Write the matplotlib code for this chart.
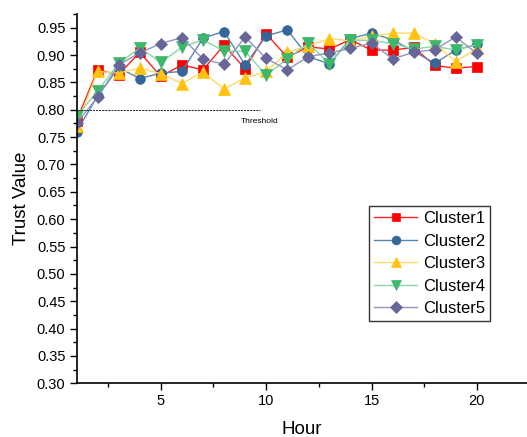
import matplotlib
matplotlib.use("Agg")
import matplotlib.pyplot as plt
from matplotlib.ticker import MultipleLocator

plt.rcParams['font.family'] = ['Liberation Sans', 'DejaVu Sans']

hours = list(range(1, 21))
cluster1 = [0.780, 0.873, 0.864, 0.905, 0.861, 0.882, 0.873, 0.918, 0.875, 0.939,
            0.896, 0.915, 0.911, 0.928, 0.909, 0.909, 0.914, 0.881, 0.876, 0.879]
cluster2 = [0.760, 0.825, 0.877, 0.857, 0.867, 0.870, 0.931, 0.943, 0.882, 0.935,
            0.946, 0.897, 0.884, 0.930, 0.940, 0.928, 0.907, 0.885, 0.909, 0.920]
cluster3 = [0.770, 0.870, 0.867, 0.876, 0.866, 0.848, 0.869, 0.838, 0.858, 0.870,
            0.905, 0.917, 0.930, 0.926, 0.934, 0.940, 0.940, 0.921, 0.888, 0.912]
cluster4 = [0.788, 0.834, 0.885, 0.913, 0.887, 0.914, 0.928, 0.907, 0.907, 0.863,
            0.893, 0.922, 0.884, 0.927, 0.927, 0.921, 0.911, 0.916, 0.909, 0.919]
cluster5 = [0.775, 0.823, 0.882, 0.904, 0.921, 0.932, 0.893, 0.883, 0.933, 0.894,
            0.873, 0.897, 0.904, 0.912, 0.922, 0.893, 0.905, 0.910, 0.933, 0.903]
series_names = ["Cluster1", "Cluster2", "Cluster3", "Cluster4", "Cluster5"]
threshold_value = 0.80
threshold_span = [1, 9.7]

series = [cluster1, cluster2, cluster3, cluster4, cluster5]
markers = ["s", "o", "^", "v", "D"]
marker_colors = ["#FF0000", "#336699", "#FFC20E", "#3DB86B", "#666699"]
line_colors = ["#FF2020", "#5A85B3", "#FFD966", "#86D9A4", "#9494BC"]
marker_sizes = [6.5, 7, 8, 8, 6.5]

fig = plt.figure(figsize=(5.27, 4.37), dpi=100)
ax = fig.add_axes([0.1452, 0.1229, 0.8548, 0.845])

for vals, name, m, mc, lc, ms in zip(series, series_names, markers,
                                     marker_colors, line_colors, marker_sizes):
    ax.plot(hours, vals, color=lc, lw=1.0, marker=m, markersize=ms,
            markerfacecolor=mc, markeredgecolor=mc, markeredgewidth=0.5,
            label=name)

ax.plot(threshold_span, [threshold_value, threshold_value], color="black",
        lw=0.6, ls=(0, (2.5, 1.2)))
ax.text(8.8, 0.778, "Threshold", fontsize=6, va="center", ha="left")

ax.set_xlim(1, 22.38)
ax.set_ylim(0.30, 0.975)
ax.xaxis.set_major_locator(MultipleLocator(5))
ax.xaxis.set_minor_locator(MultipleLocator(2.5))
ax.yaxis.set_major_locator(MultipleLocator(0.05))
ax.yaxis.set_minor_locator(MultipleLocator(0.025))
ax.yaxis.set_major_formatter(matplotlib.ticker.FormatStrFormatter("%.2f"))

for s in ["top", "right"]:
    ax.spines[s].set_visible(False)
for s in ["left", "bottom"]:
    ax.spines[s].set_linewidth(1.2)

ax.tick_params(which="major", direction="out", length=5, width=1.0,
               labelsize=10.5, pad=3)
ax.tick_params(which="minor", direction="out", length=3, width=1.0)

ax.set_xlabel("Hour", fontsize=13.5, labelpad=9)
ax.set_ylabel("Trust Value", fontsize=13.5, labelpad=5)

leg = ax.legend(loc="upper left", bbox_to_anchor=(0.649, 0.480),
                fontsize=12, frameon=True, fancybox=False,
                edgecolor="#333333", framealpha=1, borderpad=0.3,
                labelspacing=0.45, handlelength=2.6, handletextpad=0.35,
                borderaxespad=0, markerscale=0.9)
leg.get_frame().set_linewidth(1.0)

fig.savefig("out.png", dpi=100)
